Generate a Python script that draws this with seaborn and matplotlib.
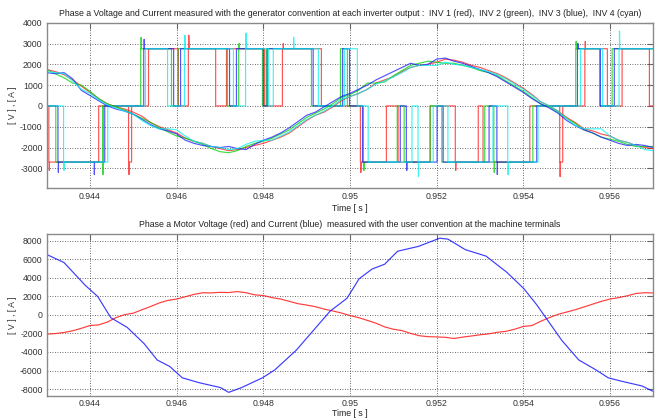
import numpy as np
import matplotlib
matplotlib.use("Agg")
import matplotlib.pyplot as plt
import seaborn as sns

sns.set_theme(style="white")
plt.rcParams['font.family'] = ['Liberation Sans', 'DejaVu Sans']

# ---------------- data ----------------
title_top = ("Phase a Voltage and Current measured with the generator convention at each inverter output :  "
             "INV 1 (red),  INV 2 (green),  INV 3 (blue),  INV 4 (cyan)")
title_bot = "Phase a Motor Voltage (red) and Current (blue)  measured with the user convention at the machine terminals"
xlabel_txt = "Time [ s ]"
ylabel_txt = "[ V ] , [ A ]"

x_ticks = [0.944, 0.946, 0.948, 0.950, 0.952, 0.954, 0.956]
x_ticklabels = ["0.944", "0.946", "0.948", "0.95", "0.952", "0.954", "0.956"]
y_ticks_top = [-3000, -2000, -1000, 0, 1000, 2000, 3000, 4000]
y_ticks_bot = [-8000, -6000, -4000, -2000, 0, 2000, 4000, 6000, 8000]
t_end = 0.957

# inverter output voltages: switching instants [s] and level after each instant [V]
inv1_sw_t = [0.9430, 0.94305, 0.94420, 0.94489, 0.94496, 0.94535, 0.94604, 0.94627, 0.94690, 0.94715,
             0.94803, 0.94844, 0.94934, 0.95024, 0.95084, 0.95111, 0.95185, 0.95243, 0.95296, 0.95307,
             0.95415, 0.95484, 0.95491, 0.95542, 0.95594, 0.95628, 0.95691]
inv1_sw_v = [0, -2700, 0, -2700, 0, 2750, 0, 2750, 0, 2750,
             0, 2750, 0, -2700, 0, -2700, 0, -2700, 0, -2700,
             0, -2700, 0, 2750, 0, 2750, 0]
inv2_sw_t = [0.9430, 0.94321, 0.94429, 0.94517, 0.94588, 0.94603, 0.94717, 0.94743, 0.94798, 0.94807,
             0.94911, 0.94978, 0.94994, 0.95031, 0.95109, 0.95125, 0.95185, 0.95212, 0.95311, 0.95332,
             0.95422, 0.95521, 0.95576, 0.95605]
inv2_sw_v = [0, -2700, 0, 2750, 0, 2750, 0, 2750, 0, 2750,
             0, 2750, 0, -2700, 0, -2700, 0, -2700, 0, -2700,
             0, 2750, 0, 2750]
inv3_sw_t = [0.9430, 0.94326, 0.94434, 0.94524, 0.94593, 0.94609, 0.94722, 0.94738, 0.94800, 0.94809,
             0.94915, 0.94983, 0.94999, 0.95029, 0.95116, 0.95130, 0.95201, 0.95215, 0.95321, 0.95339,
             0.95431, 0.95525, 0.95578, 0.95610]
inv3_sw_v = [0, -2700, 0, 2750, 0, 2750, 0, 2750, 0, 2750,
             0, 2750, 0, -2700, 0, -2700, 0, -2700, 0, -2700,
             0, 2750, 0, 2750]
inv4_sw_t = [0.9430, 0.94339, 0.94441, 0.94528, 0.94579, 0.94618, 0.94731, 0.94759, 0.94812, 0.94823,
             0.94927, 0.94987, 0.95017, 0.95042, 0.95143, 0.95157, 0.95192, 0.95226, 0.95330, 0.95364,
             0.95434, 0.95532, 0.95583, 0.95621]
inv4_sw_v = [0, -2700, 0, 2750, 0, 2750, 0, 2750, 0, 2750,
             0, 2750, 0, -2700, 0, -2700, 0, -2700, 0, -2700,
             0, 2750, 0, 2750]

# switching overshoot spikes: instant [s], peak [V]
inv1_spk_t = [0.94306, 0.94490, 0.94628, 0.94846, 0.95025, 0.95244, 0.95485, 0.95543]
inv1_spk_v = [-3100, -3300, 3400, 3000, -3200, -3100, -3400, 3100]
inv2_spk_t = [0.94430, 0.94518, 0.94744, 0.95032, 0.95333, 0.95522]
inv2_spk_v = [-3300, 3300, 3000, -3100, -3200, 3100]
inv3_spk_t = [0.94327, 0.94410, 0.94525, 0.95131, 0.95340, 0.95526]
inv3_spk_v = [-3200, -3300, 3200, -3100, -3300, 3000]
inv4_spk_t = [0.94340, 0.94619, 0.94760, 0.94870, 0.95158, 0.95365, 0.95622]
inv4_spk_v = [-3100, 3400, 3500, 3300, -3400, -3300, 3600]

# inverter output currents
cur_t = [0.9430, 0.9432, 0.9434, 0.9436, 0.9438, 0.9440, 0.9442, 0.9444, 0.9446, 0.9448,
         0.9450, 0.9452, 0.9454, 0.9456, 0.9458, 0.9460, 0.9462, 0.9464, 0.9466, 0.9468,
         0.9470, 0.9472, 0.9474, 0.9476, 0.9478, 0.9480, 0.9482, 0.9484, 0.9486, 0.9488,
         0.9490, 0.9492, 0.9494, 0.9496, 0.9498, 0.9500, 0.9502, 0.9504, 0.9506, 0.9508,
         0.9510, 0.9512, 0.9514, 0.9516, 0.9518, 0.9520, 0.9522, 0.9524, 0.9526, 0.9528,
         0.9530, 0.9532, 0.9534, 0.9536, 0.9538, 0.9540, 0.9542, 0.9544, 0.9546, 0.9548,
         0.9550, 0.9552, 0.9554, 0.9556, 0.9558, 0.9560, 0.9562, 0.9564, 0.9566, 0.9568,
         0.9570]
inv1_cur = [1750, 1650, 1500, 1250, 950, 650, 350, 100, -50, -150,
            -300, -500, -800, -1000, -1150, -1300, -1550, -1700, -1800, -1950,
            -2050, -2150, -2100, -2000, -1900, -1800, -1650, -1500, -1300, -1000,
            -700, -450, -300, -50, 250, 450, 600, 800, 1100, 1250,
            1400, 1650, 1850, 1950, 2000, 2100, 2250, 2200, 2100, 1950,
            1850, 1700, 1550, 1350, 1100, 850, 550, 200, 0, -250,
            -550, -800, -1100, -1200, -1350, -1450, -1650, -1750, -1900, -2000,
            -2050]
inv2_cur = [1750, 1550, 1350, 1100, 1000, 700, 350, 100, -50, -200,
            -400, -600, -800, -1050, -1250, -1450, -1550, -1700, -1850, -2050,
            -2200, -2250, -2150, -1950, -1800, -1700, -1550, -1350, -1150, -850,
            -550, -350, -150, 100, 400, 550, 750, 1100, 1100, 1150,
            1450, 1700, 1950, 2050, 2150, 2100, 2050, 2050, 1950, 1850,
            1700, 1600, 1450, 1200, 950, 700, 400, 100, -50, -300,
            -600, -850, -1150, -1300, -1500, -1600, -1700, -1850, -1950, -1950,
            -1950]
inv3_cur = [1600, 1550, 1600, 1300, 750, 500, 250, 0, -150, -250,
            -400, -650, -900, -1100, -1200, -1350, -1650, -1800, -1900, -1950,
            -2000, -1950, -2050, -2100, -1850, -1650, -1500, -1300, -1050, -750,
            -450, -300, -50, 200, 450, 600, 800, 1000, 1250, 1450,
            1650, 1850, 2050, 1950, 2000, 2250, 2300, 2150, 2050, 1900,
            1750, 1600, 1400, 1150, 900, 650, 350, 100, -100, -350,
            -700, -950, -1150, -1300, -1500, -1650, -1800, -1900, -1850, -1900,
            -2000]
inv4_cur = [1650, 1600, 1550, 1200, 800, 600, 300, 50, -100, -250,
            -400, -700, -950, -1100, -1100, -1150, -1450, -1700, -1800, -1950,
            -2000, -2100, -2050, -1850, -1700, -1650, -1650, -1450, -1250, -950,
            -650, -450, -250, 0, 300, 450, 600, 800, 1050, 1200,
            1400, 1600, 1850, 1950, 1950, 1950, 2100, 2000, 1950, 1850,
            1750, 1650, 1500, 1300, 1050, 800, 500, 200, 0, -250,
            -600, -950, -1100, -1100, -1100, -1450, -1650, -1750, -1900, -2100,
            -2150]

# motor terminals
motor_v = [-2080, -2020, -1900, -1720, -1450, -1150, -1080, -780, -300, 20,
           180, 550, 900, 1280, 1560, 1700, 1950, 2200, 2380, 2360,
           2420, 2400, 2500, 2380, 2150, 2080, 1850, 1700, 1450, 1200,
           1050, 880, 620, 420, 200, -80, -300, -600, -900, -1300,
           -1550, -1700, -2000, -2250, -2350, -2380, -2420, -2550, -2400, -2280,
           -2150, -2050, -1880, -1780, -1550, -1250, -1150, -700, -300, 50,
           300, 550, 850, 1150, 1450, 1700, 1850, 2050, 2300, 2380,
           2350]
motor_i_t = [0.9430, 0.9434, 0.94389, 0.94418, 0.94448, 0.94486, 0.94525, 0.94555, 0.94584, 0.94613,
             0.94652, 0.94701, 0.9472, 0.9475, 0.94798, 0.94827, 0.94876, 0.94915, 0.94954, 0.94993,
             0.95021, 0.95051, 0.9508, 0.9511, 0.95158, 0.95207, 0.95226, 0.95266, 0.95314, 0.95362,
             0.95401, 0.95431, 0.9546, 0.95489, 0.95528, 0.95567, 0.95596, 0.95625, 0.95674, 0.9570]
motor_i = [6500, 5630, 3180, 1960, -310, -1360, -3110, -4860, -5560, -6780,
           -7310, -7830, -8350, -7830, -6780, -5910, -3810, -1710, 390, 1780,
           3880, 4930, 5450, 6850, 7370, 8250, 8150, 7020, 6320, 4580,
           2830, 1080, -840, -2760, -4860, -5910, -6780, -7130, -7660, -8250]

# ---------------- helpers ----------------
def step_path(ts, vs, tend, spk_t, spk_v):
    xs, ys = [], []
    for i, (t, v) in enumerate(zip(ts, vs)):
        if i > 0:
            xs.append(t); ys.append(vs[i - 1])
        xs.append(t); ys.append(v)
    xs.append(tend); ys.append(vs[-1])
    for st, sv in zip(spk_t, spk_v):
        idx = int(np.searchsorted(xs, st, side='right'))
        lvl = ys[idx - 1]
        xs[idx:idx] = [st, st, st + 4e-6]
        ys[idx:idx] = [lvl, sv, lvl]
    return xs, ys

RED, GREEN, BLUE, CYAN = "#ff1a1a", "#00d000", "#1a1aff", "#00f0f0"
LW, AL = 0.85, 0.75

fig = plt.figure(figsize=(6.65, 4.19), dpi=100)
ax1 = fig.add_axes([0.0702, 0.5506, 0.9122, 0.3952])
ax2 = fig.add_axes([0.0702, 0.0540, 0.9122, 0.3868])

volts = [(inv1_sw_t, inv1_sw_v, inv1_spk_t, inv1_spk_v, RED),
         (inv2_sw_t, inv2_sw_v, inv2_spk_t, inv2_spk_v, GREEN),
         (inv3_sw_t, inv3_sw_v, inv3_spk_t, inv3_spk_v, BLUE),
         (inv4_sw_t, inv4_sw_v, inv4_spk_t, inv4_spk_v, CYAN)]
for ts, vs, st, sv, c in volts:
    xs, ys = step_path(ts, vs, t_end, st, sv)
    sns.lineplot(x=xs, y=ys, ax=ax1, color=c, lw=LW, alpha=AL, sort=False, estimator=None)
for cur, c in [(inv1_cur, RED), (inv2_cur, GREEN), (inv3_cur, BLUE), (inv4_cur, CYAN)]:
    sns.lineplot(x=cur_t, y=cur, ax=ax1, color=c, lw=LW, alpha=AL, sort=False, estimator=None)

sns.lineplot(x=cur_t, y=motor_v, ax=ax2, color=RED, lw=LW, alpha=0.85, sort=False, estimator=None)
sns.lineplot(x=motor_i_t, y=motor_i, ax=ax2, color=BLUE, lw=LW, alpha=0.85, sort=False, estimator=None)

for ax, yt, ylim, title, tp, lp in [(ax1, y_ticks_top, (-3960, 4000), title_top, 3, 2),
                                    (ax2, y_ticks_bot, (-8780, 8670), title_bot, 2, 0.5)]:
    ax.set_xlim(0.943, t_end)
    ax.set_ylim(*ylim)
    ax.set_xticks(x_ticks)
    ax.set_xticklabels(x_ticklabels)
    ax.set_yticks(yt)
    ax.set_yticklabels([str(v) for v in yt])
    ax.grid(True, linestyle=(0, (1, 2)), color="#3a3a3a", lw=0.6)
    ax.set_axisbelow(True)
    for sp in ax.spines.values():
        sp.set_color("#8a8a8a")
        sp.set_linewidth(1.0)
    ax.tick_params(direction="in", length=4, width=0.8, color="#666666", labelsize=6.3,
                   labelcolor="#333333", top=True, right=True, pad=3)
    ax.tick_params(axis="x", pad=tp)
    ax.set_title(title, fontsize=6.3, color="#222222", pad=5)
    ax.set_xlabel(xlabel_txt, fontsize=6.3, color="#222222", labelpad=lp)
    ax.set_ylabel(ylabel_txt, fontsize=6.3, color="#333333", labelpad=2)

fig.savefig("out.png", dpi=100)
